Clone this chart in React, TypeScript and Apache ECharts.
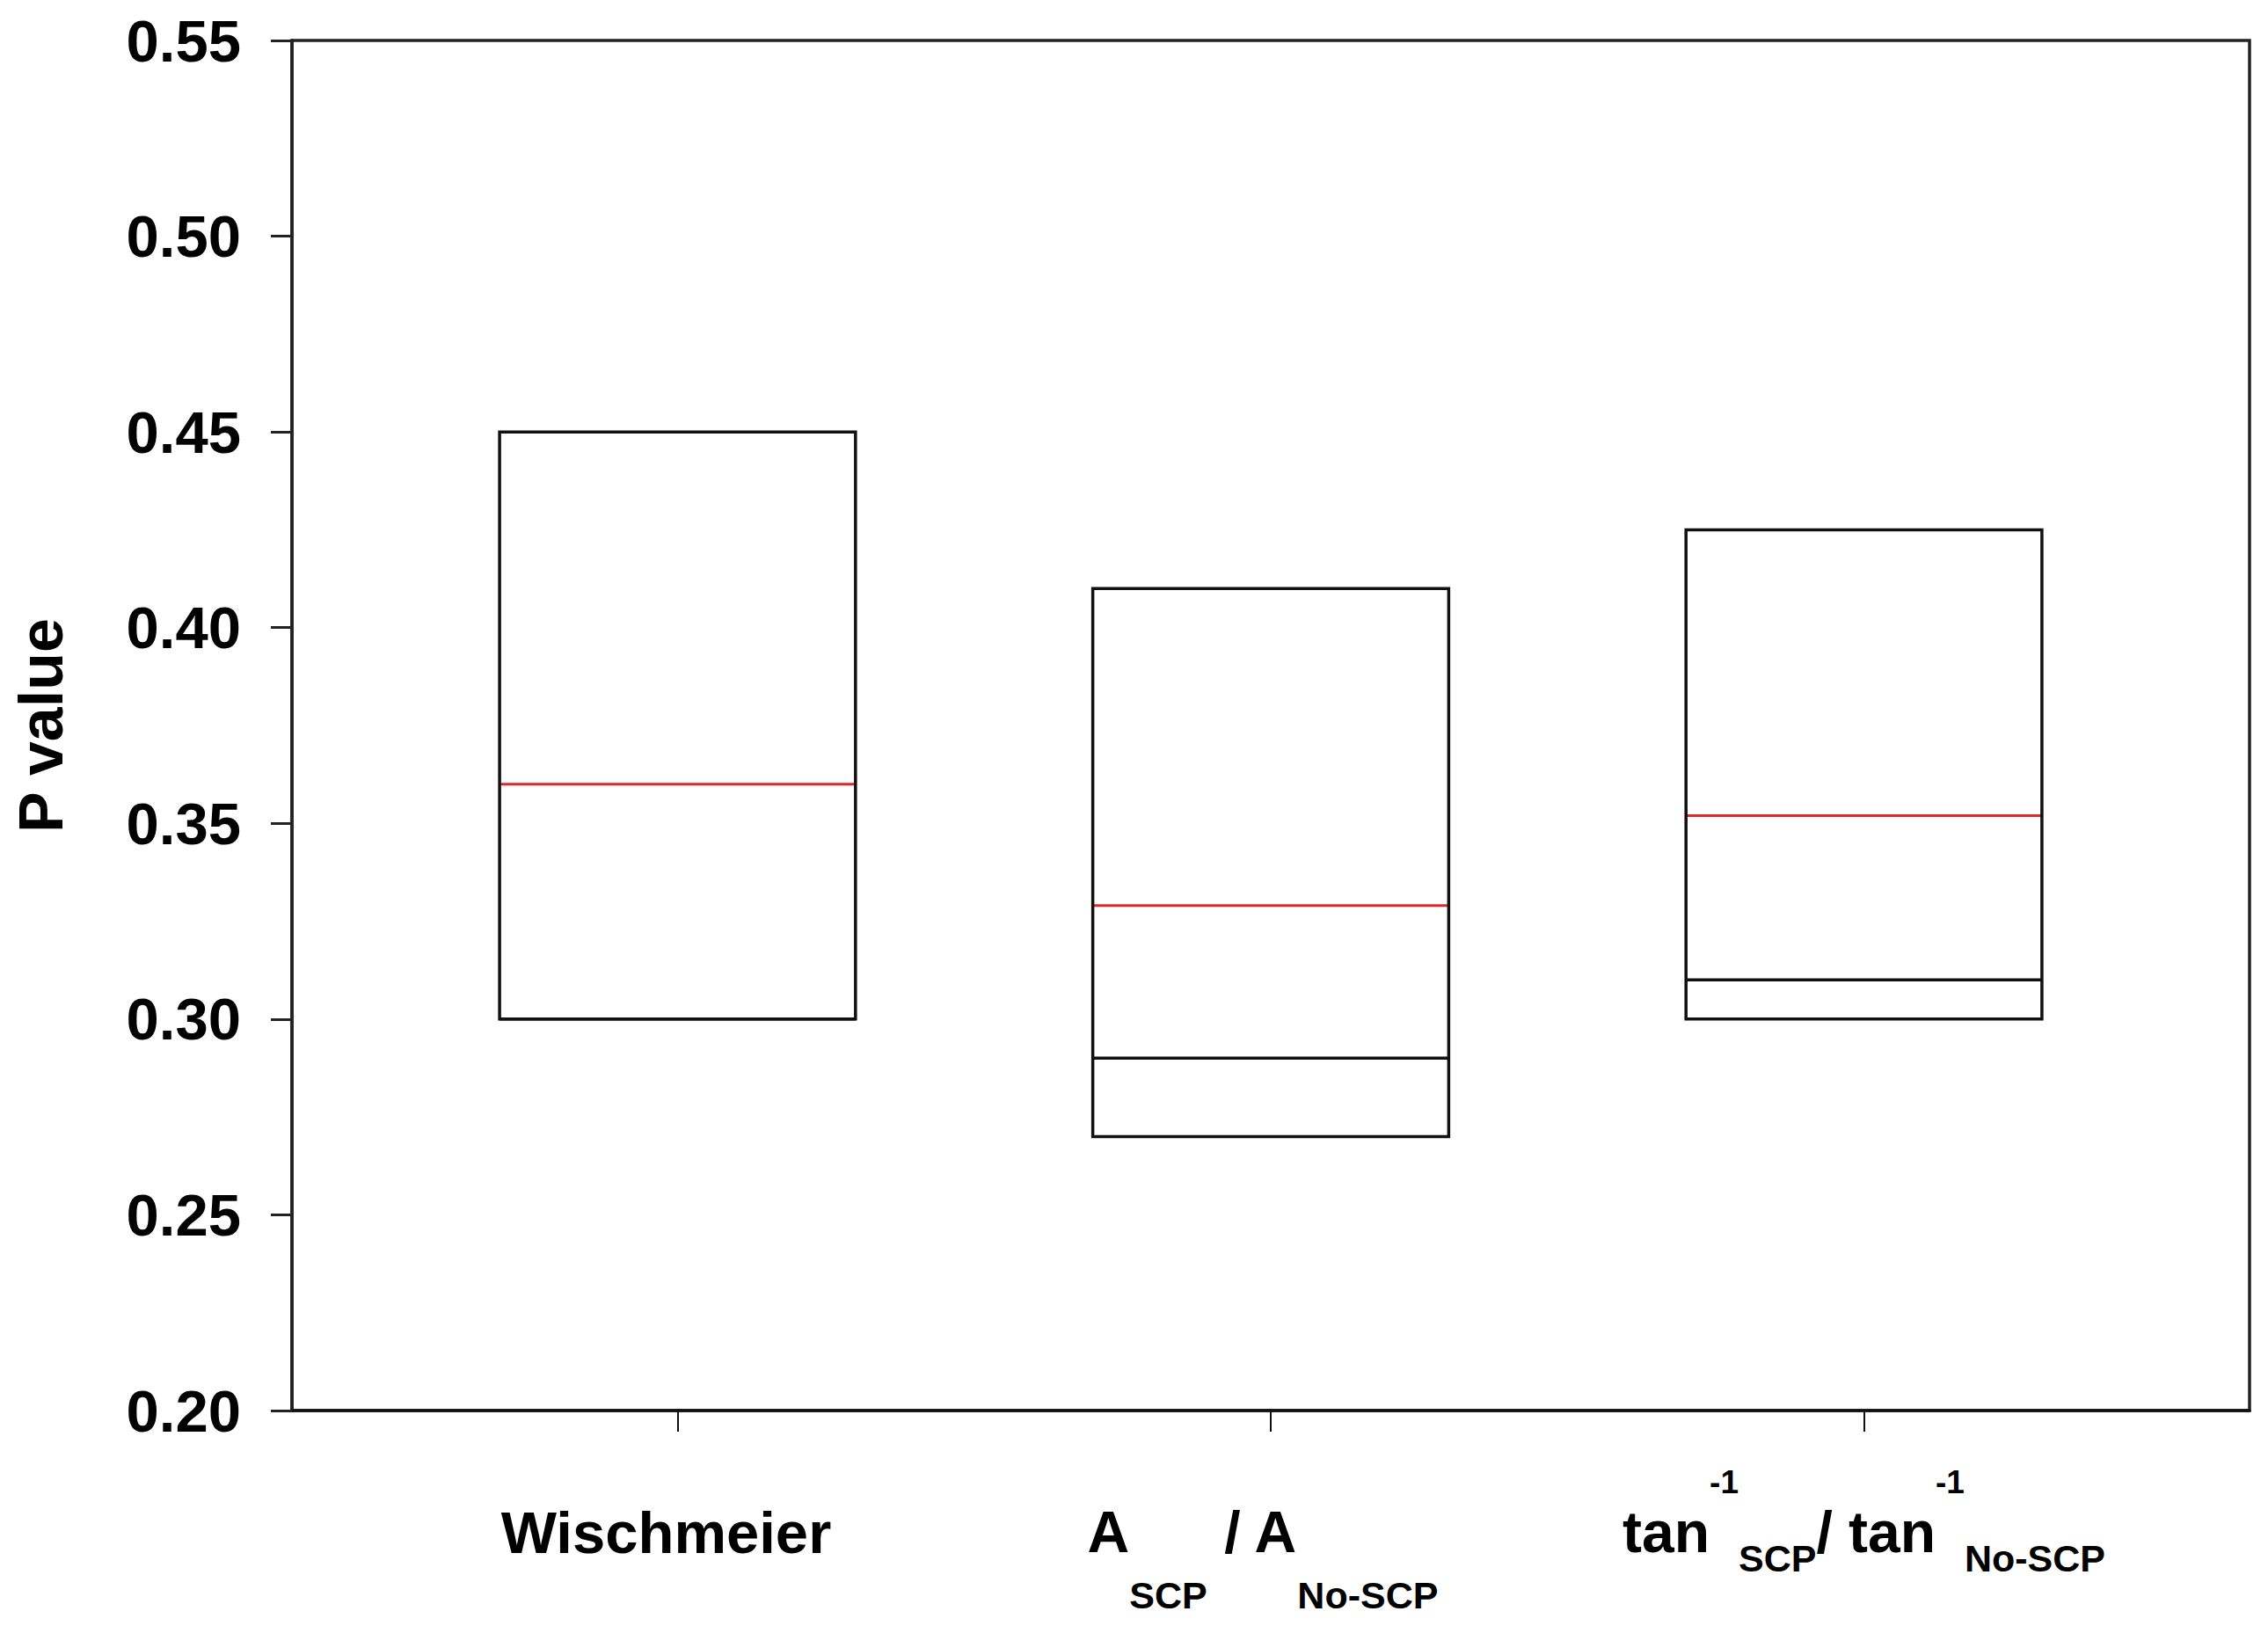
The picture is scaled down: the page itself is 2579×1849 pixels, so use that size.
import React, { useEffect, useRef } from "react";
import * as echarts from "echarts";

// ---- data ----
const categories = ["Wischmeier", "A_SCP / A_No-SCP", "tan-1_SCP / tan-1_No-SCP"];
const categoryRich = [
  "{w|Wischmeier}",
  "{m|A}{s|SCP}{m| / A}{se|No-SCP}",
  "{m|tan}{u|-1}{t|SCP}{m|/ tan}{u|-1}{t|No-SCP}",
];
const xPositions = [1, 2, 3];
const boxLow = [0.3, 0.27, 0.3];
const boxHigh = [0.45, 0.41, 0.425];
const medianVals = [0.3, 0.29, 0.31];
const meanVals = [0.36, 0.329, 0.352];
const yTicks = { min: 0.2, max: 0.55, interval: 0.05 };

const FONT = "'Liberation Sans', Arial, Helvetica, sans-serif";

export default function App() {
  const ref = useRef<HTMLDivElement>(null);

  useEffect(() => {
    document.body.style.margin = "0";
    document.body.style.overflow = "hidden";
    if (!ref.current) return;
    const chart = echarts.init(ref.current, null, { renderer: "svg" });

    const data = xPositions.map((x, i) => [x, boxLow[i], boxHigh[i], medianVals[i], meanVals[i]]);
    const halfW = 0.3;

    const baseTok = { fontFamily: FONT, fontWeight: "bold", color: "#000", verticalAlign: "top" };

    chart.setOption({
      animation: false,
      backgroundColor: "#fff",
      grid: {
        left: 332,
        right: 21,
        top: 46,
        bottom: 245,
        show: true,
        borderColor: "#222",
        borderWidth: 3.5,
        backgroundColor: "transparent",
      },
      xAxis: {
        type: "value",
        min: 0.35,
        max: 3.65,
        splitLine: { show: false },
        axisLine: { show: true, onZero: false, lineStyle: { color: "#111", width: 3.5 } },
        axisTick: {
          show: true,
          customValues: xPositions,
          length: 24,
          lineStyle: { color: "#111", width: 2 },
        },
        axisLabel: {
          show: true,
          customValues: xPositions,
          margin: 56,
          formatter: (v: number) => {
            const idx = xPositions.indexOf(Math.round(v));
            return idx >= 0 ? categoryRich[idx] : "";
          },
          rich: {
            w: { ...baseTok, fontSize: 67, padding: [49, 26, 0, 0] },
            m: { ...baseTok, fontSize: 66, padding: [49, 0, 0, 0] },
            s: { ...baseTok, fontSize: 43, padding: [132, 0, 0, 0] },
            se: { ...baseTok, fontSize: 43, padding: [132, 18, 0, 0] },
            t: { ...baseTok, fontSize: 43, padding: [90, 0, 0, 0] },
            u: { ...baseTok, fontSize: 37, padding: [7, 0, 0, 0] },
          },
        },
      },
      yAxis: {
        type: "value",
        min: yTicks.min,
        max: yTicks.max,
        interval: yTicks.interval,
        name: "P value",
        nameLocation: "middle",
        nameGap: 250,
        nameTextStyle: { fontFamily: FONT, fontWeight: "bold", fontSize: 70, color: "#000" },
        splitLine: { show: false },
        axisLine: { show: true, lineStyle: { color: "#222", width: 3.5 } },
        axisTick: { show: true, length: 24, lineStyle: { color: "#222", width: 3 } },
        axisLabel: {
          margin: 58,
          fontFamily: FONT,
          fontWeight: "bold",
          fontSize: 67,
          color: "#000",
          formatter: (v: number) => v.toFixed(2),
        },
      },
      series: [
        {
          type: "custom",
          name: categories.join(", "),
          data,
          encode: { x: 0, y: [1, 2] },
          clip: false,
          renderItem: (params: any, api: any) => {
            const x = api.value(0);
            const lo = api.coord([x - halfW, api.value(1)]);
            const hi = api.coord([x + halfW, api.value(2)]);
            const medY = api.coord([x, api.value(3)])[1];
            const meanY = api.coord([x, api.value(4)])[1];
            return {
              type: "group",
              children: [
                {
                  type: "line",
                  shape: { x1: lo[0], y1: medY, x2: hi[0], y2: medY },
                  style: { stroke: "#111", lineWidth: 3.5 },
                },
                {
                  type: "line",
                  shape: { x1: lo[0], y1: meanY, x2: hi[0], y2: meanY },
                  style: { stroke: "#e02828", lineWidth: 3 },
                },
                {
                  type: "rect",
                  shape: { x: lo[0], y: hi[1], width: hi[0] - lo[0], height: lo[1] - hi[1] },
                  style: { fill: "none", stroke: "#111", lineWidth: 3.5 },
                },
              ],
            };
          },
        },
      ],
    });

    return () => chart.dispose();
  }, []);

  return <div ref={ref} style={{ width: 2579, height: 1849 }} />;
}
